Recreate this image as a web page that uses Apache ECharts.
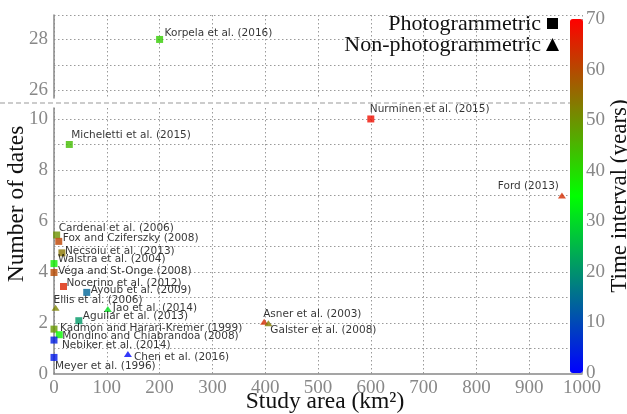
<!DOCTYPE html>
<html>
<head>
<meta charset="utf-8">
<script src="https://cdn.jsdelivr.net/npm/echarts@6.0.0/dist/echarts.min.js"></script>
<style>
  html, body { margin: 0; padding: 0; background: #fff; }
  #main { width: 627px; height: 414px; }
</style>
</head>
<body>
<div id="main"></div>
<script>
// data
const studies = [
  'Korpela et al. (2016)', 'Nurminen et al. (2015)', 'Micheletti et al. (2015)', 'Ford (2013)',
  'Cardenal et al. (2006)', 'Fox and Cziferszky (2008)', 'Necsoiu et al. (2013)', 'Walstra et al. (2004)',
  'Véga and St-Onge (2008)', 'Nocerino et al. (2012)', 'Ayoub et al. (2009)', 'Ellis et al. (2006)',
  'Jao et al. (2014)', 'Aguilar et al. (2013)', 'Asner et al. (2003)', 'Galster et al. (2008)',
  'Kadmon and Harari-Kremer (1999)', 'Mondino and Chiabrandoa (2008)', 'Nebiker et al. (2014)',
  'Chen et al. (2016)', 'Meyer et al. (1996)'
];
const studyArea    = [200, 600, 29, 962, 5, 9, 15, 0, 0, 18, 62, 3, 102, 47, 398, 406, 0, 10, 0, 140, 0];
const numDates     = [28, 10, 9, 7, 5.45, 5.2, 4.75, 4.33, 3.98, 3.43, 3.2, 2.6, 2.55, 2.09, 2.05, 1.99, 1.76, 1.54, 1.33, 0.78, 0.65];
const timeInterval = [42, 68, 44, 64, 50, 61, 54, 37, 60, 65, 14, 52, 31, 21, 64, 53, 49, 36, 4, 1, 3];
const isPhoto      = [1, 1, 1, 0, 1, 1, 1, 1, 1, 1, 1, 0, 0, 1, 0, 0, 1, 1, 1, 0, 1];
const colorbarColors = ['#0000ff', '#00ff00', '#ff0000'];

// label placement, relative to the marker centre
const labelOffset = {
  'Korpela et al. (2016)': [5, -6],
  'Nurminen et al. (2015)': [-1, -10],
  'Micheletti et al. (2015)': [2, -9],
  'Ford (2013)': [-3, -9, 'right'],
  'Cardenal et al. (2006)': [2, -7],
  'Fox and Cziferszky (2008)': [4, -3],
  'Necsoiu et al. (2013)': [3, -2],
  'Walstra et al. (2004)': [4, -4],
  'Véga and St-Onge (2008)': [4, -1],
  'Nocerino et al. (2012)': [3, -3],
  'Ayoub et al. (2009)': [4, -2],
  'Ellis et al. (2006)': [-2, -7],
  'Jao et al. (2014)': [5, -1],
  'Aguilar et al. (2013)': [4, -4],
  'Asner et al. (2003)': [-1, -7],
  'Galster et al. (2008)': [2, 7],
  'Kadmon and Harari-Kremer (1999)': [6, -1],
  'Mondino and Chiabrandoa (2008)': [3, 2],
  'Nebiker et al. (2014)': [8, 5],
  'Chen et al. (2016)': [6, 3],
  'Meyer et al. (1996)': [1, 9]
};

const SERIF = "'Liberation Serif', 'DejaVu Serif', serif";
const SANS = "'DejaVu Sans', sans-serif";
const gridLine = { show: true, lineStyle: { color: '#9a9a9a', type: [1.5, 2.5], width: 1 } };
const tickLabel = { color: '#888', fontFamily: SERIF, fontSize: 19, formatter: v => String(v) };

function points(upper, photo) {
  const out = [];
  studies.forEach((name, i) => {
    if ((numDates[i] > 20) !== upper || isPhoto[i] !== photo) return;
    const off = labelOffset[name] || [4, 0];
    out.push({
      name: name,
      value: [studyArea[i], numDates[i], timeInterval[i]],
      label: { offset: [off[0], off[1]], align: off[2] || 'left' }
    });
  });
  return out;
}

function scatter(upper, photo) {
  return {
    type: 'scatter',
    xAxisIndex: upper ? 0 : 1,
    yAxisIndex: upper ? 0 : 1,
    symbol: photo ? 'rect' : 'triangle',
    symbolSize: photo ? 7 : [8, 6],
    data: points(upper, photo),
    label: {
      show: true,
      position: 'inside',
      verticalAlign: 'middle',
      formatter: p => p.name,
      color: '#000',
      textBorderWidth: 0,
      textBorderColor: 'transparent',
      fontFamily: SANS,
      fontSize: 10.5
    },
    emphasis: { disabled: true }
  };
}

const evenOnly = v => (Number.isInteger(v) && v % 2 === 0) ? String(v) : '';

let myChart = echarts.init(document.getElementById('main'));
myChart.setOption({
  backgroundColor: '#fff',
  animation: false,
  grid: [
    { left: 54, right: 45, top: 15, height: 83, outerBoundsMode: 'none' },
    { left: 54, right: 45, top: 108, height: 266, outerBoundsMode: 'none' },
    { left: 570, top: 19, width: 13, height: 354, outerBoundsMode: 'none' }
  ],
  xAxis: [
    {
      gridIndex: 0, type: 'value', min: 0, max: 1000, interval: 100,
      axisLine: { show: false }, axisTick: { show: false }, axisLabel: { show: false },
      splitLine: gridLine
    },
    {
      gridIndex: 1, type: 'value', min: 0, max: 1000, interval: 100,
      axisLine: { show: true, lineStyle: { color: '#888', width: 1.5 } },
      axisTick: { show: false },
      axisLabel: Object.assign({}, tickLabel, { margin: 5 }),
      splitLine: gridLine,
      name: 'Study area (km²)', nameLocation: 'middle', nameGap: 16, nameMoveOverlap: false,
      nameTextStyle: { color: '#111', fontFamily: SERIF, fontSize: 23.5, padding: [0, 0, 0, 14] }
    },
    { gridIndex: 2, type: 'value', show: false }
  ],
  yAxis: [
    {
      gridIndex: 0, type: 'value', min: 25.7, max: 28.96, minInterval: 1, maxInterval: 1, splitNumber: 3,
      axisLine: { show: true, lineStyle: { color: '#888', width: 1.5 } },
      axisTick: { show: false },
      axisLabel: Object.assign({}, tickLabel, { margin: 6, formatter: evenOnly }),
      splitLine: Object.assign({ showMinLine: false }, gridLine)
    },
    {
      gridIndex: 1, type: 'value', min: 0, max: 10.43, interval: 1,
      axisLine: { show: true, lineStyle: { color: '#888', width: 1.5 } },
      axisTick: { show: false },
      axisLabel: Object.assign({}, tickLabel, { margin: 6, formatter: evenOnly }),
      splitLine: Object.assign({ showMaxLine: false, showMinLine: false }, gridLine)
    },
    {
      gridIndex: 2, type: 'value', position: 'right', min: 0, max: 70, interval: 10,
      axisLine: { show: false }, axisTick: { show: false }, splitLine: { show: false },
      axisLabel: Object.assign({}, tickLabel, { margin: 3 }),
      name: 'Time interval (years)', nameLocation: 'middle', nameRotate: 90, nameGap: 25,
      nameTextStyle: { color: '#111', fontFamily: SERIF, fontSize: 23 }
    }
  ],
  visualMap: {
    type: 'continuous',
    min: 0, max: 70,
    dimension: 2,
    seriesIndex: [0, 1, 2, 3],
    inRange: { color: colorbarColors },
    calculable: false,
    hoverLink: false,
    text: ['', ''],
    left: 570, top: 19,
    itemWidth: 13, itemHeight: 354,
    padding: 0
  },
  series: [scatter(true, 1), scatter(true, 0), scatter(false, 1), scatter(false, 0)],
  graphic: [
    {
      type: 'line', z: 10,
      shape: { x1: 0, y1: 103, x2: 570, y2: 103 },
      style: { stroke: '#999', lineWidth: 1.2, lineDash: [5, 3] }
    },
    {
      type: 'text', x: 17, y: 204, rotation: Math.PI / 2,
      style: { text: 'Number of dates', font: '23.5px ' + SERIF, fill: '#111', align: 'center', verticalAlign: 'middle' }
    },
    {
      type: 'text', x: 541, y: 24,
      style: { text: 'Photogrammetric', font: '22px ' + SERIF, fill: '#111', align: 'right', verticalAlign: 'middle' }
    },
    { type: 'rect', shape: { x: 547, y: 18, width: 11, height: 11 }, style: { fill: '#000' } },
    {
      type: 'text', x: 541, y: 45,
      style: { text: 'Non-photogrammetric', font: '22px ' + SERIF, fill: '#111', align: 'right', verticalAlign: 'middle' }
    },
    { type: 'polygon', shape: { points: [[552.5, 38], [559, 51], [546, 51]] }, style: { fill: '#000' } }
  ]
});
</script>
</body>
</html>
